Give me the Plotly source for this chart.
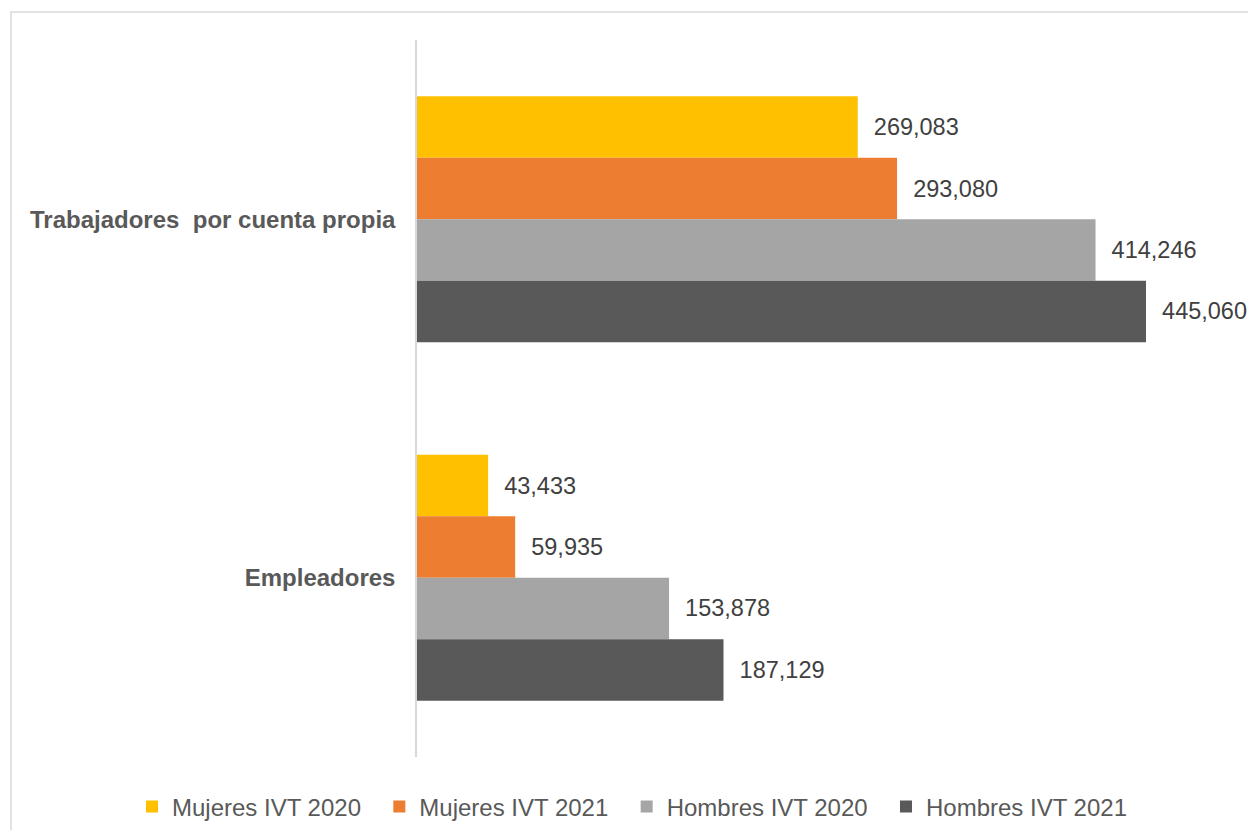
import plotly.graph_objects as go

categories = ["Trabajadores \u00a0por cuenta propia", "Empleadores"]
series_names = ["Mujeres IVT 2020", "Mujeres IVT 2021", "Hombres IVT 2020", "Hombres IVT 2021"]
mujeres_2020 = [269083, 43433]
mujeres_2021 = [293080, 59935]
hombres_2020 = [414246, 153878]
hombres_2021 = [445060, 187129]
series_values = [mujeres_2020, mujeres_2021, hombres_2020, hombres_2021]
colors = ["#FFC000", "#ED7D31", "#A5A5A5", "#595959"]

FONT = "Liberation Sans, Arial, sans-serif"

W, H = 1240, 822
L, T = 409, 32
B = H - 749
PW, PH = W - L, H - T - B
X_MAX = 445060 * PW / 729

fig = go.Figure()
for name, vals, col in zip(series_names, series_values, colors):
    fig.add_trace(go.Bar(
        y=categories, x=vals, name=name + "\u00a0\u00a0", orientation="h",
        marker=dict(color=col, line=dict(width=0)),
        texttemplate="\u00a0\u00a0%{x:,}",
        textposition="outside",
        textfont=dict(family=FONT, size=23.5, color="#404040"),
        constraintext="none",
        cliponaxis=False,
        hoverinfo="skip",
    ))

fig.update_layout(
    width=W, height=H,
    margin=dict(l=L, r=0, t=T, b=B, pad=0, autoexpand=False),
    paper_bgcolor="white", plot_bgcolor="white",
    barmode="group", bargap=0.314, bargroupgap=0,
    font=dict(family=FONT, size=24, color="#595959"),
    showlegend=True,
    legend=dict(
        orientation="h", xref="paper", yref="paper",
        x=(124 - L) / PW, xanchor="left", y=-(799 - (T + PH)) / PH, yanchor="middle",
        font=dict(family=FONT, size=24, color="#595959"),
        traceorder="normal", bgcolor="rgba(0,0,0,0)",
    ),
    xaxis=dict(range=[0, X_MAX], visible=False, showgrid=False, zeroline=False),
    yaxis=dict(
        autorange="reversed", showgrid=False, zeroline=False,
        showline=True, linecolor="#D9D9D9", linewidth=1.5,
        ticks="", ticklabelstandoff=15,
        tickfont=dict(family=FONT, size=24, color="#595959", weight="bold"),
    ),
    shapes=[dict(
        type="rect", xref="paper", yref="paper",
        x0=(3 - L) / PW, x1=1.2, y0=-0.3, y1=1 + (T - 4) / PH,
        line=dict(color="#D9D9D9", width=1.5), fillcolor="rgba(0,0,0,0)", layer="below",
    )],
)

fig.write_html("out.html")
